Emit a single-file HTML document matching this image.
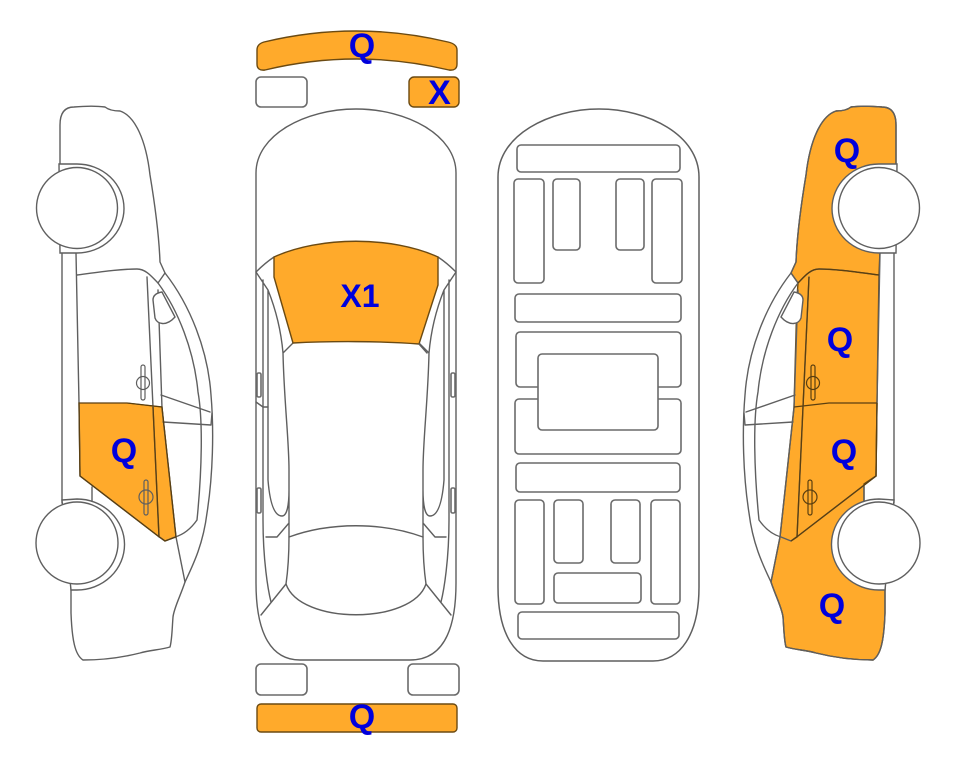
<!DOCTYPE html>
<html><head><meta charset="utf-8">
<style>
html,body{margin:0;padding:0;background:#fff}
svg{display:block}
.l{fill:none;stroke:#5f5f5f;stroke-width:1.4;stroke-linejoin:round;stroke-linecap:round}
.w{fill:#fff;stroke:#5f5f5f;stroke-width:1.4}
.r{fill:#fff;stroke:#6a6a6a;stroke-width:1.6}
.o{fill:#ffaa2b;stroke:#6b4a12;stroke-width:1.4;stroke-linejoin:round}
.d{fill:none;stroke:#5a3f10;stroke-width:1.3}
text{font-family:"Liberation Sans",sans-serif;font-weight:700;font-size:34px;fill:#0000dc;text-anchor:middle}
</style></head><body>
<svg width="963" height="768" viewBox="0 0 963 768" xmlns="http://www.w3.org/2000/svg">
<defs>
<g id="body">
<path class="l" d="M60 164L60 125Q60 107 74 107C85 106 98 106 105 107Q110 111 120 111C135 116 146 140 150 175C155 205 159 235 160 262L165 273C190 305 208 350 211 395C214 430 213 475 207 513C203 545 193 565 185 582C180 597 174 608 173 617C172 630 172 640 170 647C160 650 150 650 140 653C120 658 100 660 83 660C75 655 72 640 71 613L71 585"/>
<path class="l" d="M62 253L62 503M76 253L79 403L80 476M77 275C100 272 120 269 137 269C146 269 152 277 158 283C178 310 194 350 198 392C203 420 202 470 197 520C190 530 182 535 175 537L165 541L158 536L80 476"/>
<path class="l" d="M147 277L153 407L159 537M158 290L162 408L176 537L185 582M161 395L210 412M163 422L211 425L212 413M92 487L92 502"/>
<path class="l" d="M165 273L158 283"/>
<path class="w" d="M162 292C156 293 153 296 153 300L155 318C157 324 166 327 175 317Z"/>
<path class="w" d="M59 164L77 164A47 44.500 0 0 1 77 253L60 253Z"/>
<circle class="w" cx="77" cy="208" r="40.500"/>
<path class="w" d="M62 500L77 499A47 45 0 0 1 77 590L71 590Z"/>
<circle class="w" cx="77" cy="543" r="41"/>
</g>
<g id="handles" fill="none">
<rect x="141" y="365" width="4" height="35" rx="2"/>
<circle cx="143" cy="383" r="6.500"/>
<rect x="144" y="480" width="4" height="35" rx="2"/>
<circle cx="146" cy="497" r="7"/>
</g>
<g id="halfTop">
<path class="l" d="M256 272C262 266 268 261 274 257M256 272L268 290C276 310 281 330 283 353L293 343M283 353C284 400 289 440 289 470L289 537C289 555 288 570 286 584L261 615M263 280L263 520C263 560 268 590 271 602M268 290L268 480C270 505 275 516 282 516C287 516 289 505 289 490M266 537L277 537L289 523"/>
<rect class="r" x="257" y="373" width="4" height="24" rx="1.500" stroke-width="1.200"/>
<rect class="r" x="257" y="488" width="4" height="25" rx="1.500" stroke-width="1.200"/>
</g>
</defs>

<!-- Left side view -->
<path class="o" style="stroke-width:1" d="M79 403L127 403L162 407L176 537L165 541L158 536L80 476Z"/>
<use href="#body"/>
<use href="#handles" stroke="#5f5f5f" stroke-width="1.200"/>
<path class="d" d="M79 403L127 403L162 407L176 537L165 541L158 536L80 476Z"/>
<path class="d" d="M153 407L159 537"/>

<!-- Top view -->
<path class="o" d="M257 50Q257 44 264 42Q356 20 448 42Q457 44 457 50L457 64Q457 71 449 70Q356 48 265 70Q257 71 257 64Z"/>
<rect class="r" x="256" y="77" width="51" height="30" rx="5"/>
<rect class="o" x="409" y="77" width="50" height="30" rx="5"/>
<path class="l" d="M256 173C256 135 305 109 356 109C407 109 456 135 456 173L456 583C456 635 440 660 410 660L300 660C272 660 256 635 256 583Z"/>
<use href="#halfTop"/>
<use href="#halfTop" transform="translate(712,0) scale(-1,1)"/>
<path class="o" d="M274 257C320 236 392 236 438 257L438 285L419 344C380 341 330 341 293 343L274 277Z"/>
<path class="l" d="M419 344L427 353M256 402L263 407L268 407"/>
<path class="l" d="M289 537C330 522 382 522 423 537M286 584C300 625 412 625 426 584"/>
<rect class="r" x="256" y="664" width="51" height="31" rx="5"/>
<rect class="r" x="408" y="664" width="51" height="31" rx="5"/>
<rect class="o" x="257" y="704" width="200" height="28" rx="4"/>

<!-- Underside view -->
<path class="l" style="stroke-width:1.500" d="M498 177C498 135 550 109 599 109C648 109 699 135 699 177L699 587C699 635 680 661 653 661L543 661C516 661 498 635 498 587Z"/>
<g>
<rect class="r" x="517" y="145" width="163" height="27" rx="4"/>
<rect class="r" x="514" y="179" width="30" height="104" rx="4"/>
<rect class="r" x="553" y="179" width="27" height="71" rx="4"/>
<rect class="r" x="616" y="179" width="28" height="71" rx="4"/>
<rect class="r" x="652" y="179" width="30" height="104" rx="4"/>
<rect class="r" x="515" y="294" width="166" height="28" rx="4"/>
<rect class="r" x="516" y="332" width="165" height="55" rx="4"/>
<rect class="r" x="515" y="399" width="166" height="55" rx="4"/>
<rect class="r" x="538" y="354" width="120" height="76" rx="4"/>
<rect class="r" x="516" y="463" width="164" height="29" rx="4"/>
<rect class="r" x="515" y="500" width="29" height="104" rx="4"/>
<rect class="r" x="554" y="500" width="29" height="63" rx="4"/>
<rect class="r" x="611" y="500" width="29" height="63" rx="4"/>
<rect class="r" x="651" y="500" width="29" height="104" rx="4"/>
<rect class="r" x="554" y="573" width="87" height="30" rx="4"/>
<rect class="r" x="518" y="612" width="161" height="27" rx="4"/>
</g>

<!-- Right side view -->
<g transform="translate(956,0) scale(-1,1)">
<path class="o" d="M60 170L60 125Q60 107 74 107C85 106 98 106 105 107Q110 111 120 111C135 116 146 140 150 175C155 205 159 235 160 262L165 273L158 283L159 297L162 407L176 537L185 582C180 597 174 608 173 617C172 630 172 640 170 647C160 650 150 650 140 653C120 658 100 660 83 660C75 655 72 640 71 613L71 580L92 501L92 484L80 476L79 403L77 275L76 250Z"/>
<use href="#body"/>
<use href="#handles" stroke="#5a3f10" stroke-width="1.200"/>
<path class="d" d="M77 275C100 272 120 269 137 269C146 269 152 277 158 283M147 277L153 407L159 537L165 541L158 536L80 476L79 403M79 403L127 403L162 407"/>
</g>

<text x="124" y="462">Q</text>
<text x="362" y="57">Q</text>
<text x="439.500" y="104">X</text>
<text x="360" y="307" style="font-size:32px">X1</text>
<text x="362" y="728">Q</text>
<text x="847" y="162">Q</text>
<text x="840" y="351">Q</text>
<text x="844" y="463">Q</text>
<text x="832" y="617">Q</text>
</svg>
</body></html>
